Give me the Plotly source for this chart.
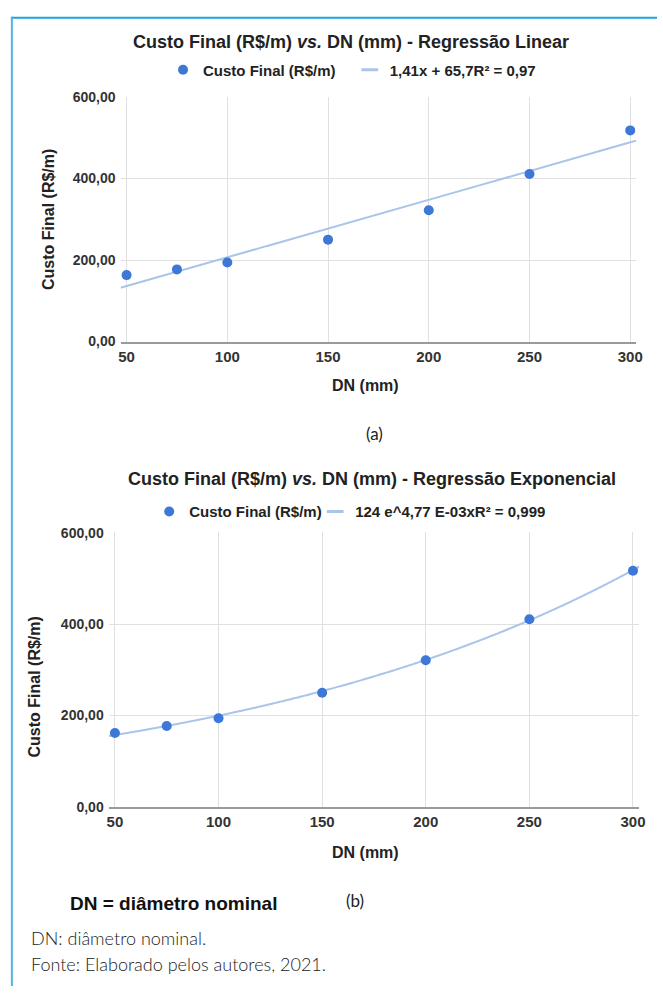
import numpy as np
import plotly.graph_objects as go

# ---------------- data ----------------
dn_mm = [50, 75, 100, 150, 200, 250, 300]
custo_linear = [163, 177, 194, 250, 322, 411, 518]
custo_exp = [162, 177, 194, 250, 321, 411, 517]

# trendline coefficients shown in the legends
lin_slope = 1.41
lin_intercept = 65.7
exp_a = 124
exp_b = 4.77e-3

x_ticks = [50, 100, 150, 200, 250, 300]
y_ticks = [0, 200, 400, 600]
y_ticktext = ["0,00", "200,00", "400,00", "600,00"]

title_a = "Custo Final (R$/m) <i>vs.</i> DN (mm) - Regressão Linear"
title_b = "Custo Final (R$/m) <i>vs.</i> DN (mm) - Regressão Exponencial"
series_name = "Custo Final (R$/m)"
trend_a_name = "1,41x + 65,7R² = 0,97"
trend_b_name = "124 e^4,77 E-03xR² = 0,999"
y_title = "Custo Final (R$/m)"
x_title = "DN (mm)"

# ---------------- layout constants ----------------
W, H = 663, 994
FONT = "Liberation Sans, Arial, sans-serif"
LIGHT = "Lato, Open Sans, sans-serif"
DOT = "#3d78d8"
TREND = "#aac4ea"
GRID = "#e0e0e0"
AX = "#9a9a9a"
TXT = "#222222"
X_RANGE = [47, 303]


def px(x):
    return x / W


def py(y):
    return 1 - y / H


fig = go.Figure()

x_line = np.linspace(X_RANGE[0], X_RANGE[1], 300)

# chart (a)
fig.add_trace(go.Scatter(x=x_line, y=lin_slope * x_line + lin_intercept, mode="lines",
                         line=dict(color=TREND, width=2), showlegend=False,
                         xaxis="x", yaxis="y", hoverinfo="skip"))
fig.add_trace(go.Scatter(x=dn_mm, y=custo_linear, mode="markers", name=series_name,
                         marker=dict(color=DOT, size=10), xaxis="x", yaxis="y",
                         legend="legend"))
fig.add_trace(go.Scatter(x=[None], y=[None], mode="markers", name=trend_a_name,
                         marker=dict(symbol="line-ew", size=12, line=dict(color=TREND, width=3)),
                         xaxis="x", yaxis="y", legend="legend2"))

# chart (b)
fig.add_trace(go.Scatter(x=x_line, y=exp_a * np.exp(exp_b * x_line), mode="lines",
                         line=dict(color=TREND, width=2, shape="spline"), showlegend=False,
                         xaxis="x2", yaxis="y2", hoverinfo="skip"))
fig.add_trace(go.Scatter(x=dn_mm, y=custo_exp, mode="markers", name=series_name,
                         marker=dict(color=DOT, size=10), xaxis="x2", yaxis="y2",
                         legend="legend3"))
fig.add_trace(go.Scatter(x=[None], y=[None], mode="markers", name=trend_b_name,
                         marker=dict(symbol="line-ew", size=12, line=dict(color=TREND, width=3)),
                         xaxis="x2", yaxis="y2", legend="legend4"))

xcommon = dict(range=X_RANGE, tickvals=x_ticks, showgrid=True, gridcolor=GRID, gridwidth=1,
               zeroline=False, showline=True, linecolor=AX, linewidth=2, ticks="",
               tickfont=dict(family=FONT, size=15, color="#333333", weight="bold"),
               fixedrange=True)
ycommon = dict(range=[0, 601], tickvals=y_ticks, ticktext=y_ticktext, showgrid=True,
               gridcolor=GRID, gridwidth=1, zeroline=False, showline=False, ticks="",
               tickfont=dict(family=FONT, size=14, color="#333333", weight="bold"),
               ticklabelstandoff=4, fixedrange=True)

legend_common = dict(orientation="h", yanchor="middle", xanchor="left", bgcolor="rgba(0,0,0,0)",
                     font=dict(family=FONT, size=15, color=TXT, weight="bold"),
                     itemwidth=30, borderwidth=0)

fig.update_layout(
    width=W, height=H, autosize=False,
    margin=dict(l=0, r=0, t=0, b=0),
    paper_bgcolor="white", plot_bgcolor="white",
    xaxis=dict(domain=[px(120), px(642)], anchor="y", **xcommon),
    yaxis=dict(domain=[py(339), py(90)], anchor="x", **ycommon),
    xaxis2=dict(domain=[px(108), px(645)], anchor="y2", **xcommon),
    yaxis2=dict(domain=[py(812), py(533)], anchor="x2", **ycommon),
    legend=dict(x=px(163), y=py(63), **legend_common),
    legend2=dict(x=px(352), y=py(63), **legend_common),
    legend3=dict(x=px(149), y=py(512), **legend_common),
    legend4=dict(x=px(317), y=py(512), **legend_common),
    showlegend=True,
)

ann = []
ann.append(dict(text=f"<b>{title_a}</b>", x=px(353), y=py(35), xref="paper", yref="paper",
                showarrow=False, xanchor="center", yanchor="middle",
                font=dict(family=FONT, size=18, color=TXT)))
ann.append(dict(text=f"<b>{title_b}</b>", x=px(375), y=py(479), xref="paper", yref="paper",
                showarrow=False, xanchor="center", yanchor="middle",
                font=dict(family=FONT, size=18, color=TXT)))
# axis titles
ann.append(dict(text=f"<b>{y_title}</b>", x=px(47), y=py(215), xref="paper", yref="paper",
                showarrow=False, textangle=-90, xanchor="center", yanchor="middle",
                font=dict(family=FONT, size=16, color=TXT)))
ann.append(dict(text=f"<b>{y_title}</b>", x=px(33), y=py(690), xref="paper", yref="paper",
                showarrow=False, textangle=-90, xanchor="center", yanchor="middle",
                font=dict(family=FONT, size=16, color=TXT)))
ann.append(dict(text=f"<b>{x_title}</b>", x=px(368), y=py(384), xref="paper", yref="paper",
                showarrow=False, xanchor="center", yanchor="middle",
                font=dict(family=FONT, size=16, color=TXT)))
ann.append(dict(text=f"<b>{x_title}</b>", x=px(368), y=py(858), xref="paper", yref="paper",
                showarrow=False, xanchor="center", yanchor="middle",
                font=dict(family=FONT, size=16, color=TXT)))
# sub labels
ann.append(dict(text="(a)", x=px(377), y=py(432), xref="paper", yref="paper",
                showarrow=False, xanchor="center", yanchor="middle",
                font=dict(family=LIGHT, size=17, color="#222222")))
ann.append(dict(text="(b)", x=px(357), y=py(907), xref="paper", yref="paper",
                showarrow=False, xanchor="center", yanchor="middle",
                font=dict(family=LIGHT, size=17, color="#222222")))
ann.append(dict(text="<b>DN = diâmetro nominal</b>", x=px(67), y=py(910), xref="paper", yref="paper",
                showarrow=False, xanchor="left", yanchor="middle",
                font=dict(family=FONT, size=19, color="#111111")))
ann.append(dict(text="DN: diâmetro nominal.", x=px(27), y=py(945), xref="paper", yref="paper",
                showarrow=False, xanchor="left", yanchor="middle",
                font=dict(family=LIGHT, size=18, color="#222222", weight=300)))
ann.append(dict(text="Fonte: Elaborado pelos autores, 2021.", x=px(27), y=py(972), xref="paper",
                yref="paper", showarrow=False, xanchor="left", yanchor="middle",
                font=dict(family=LIGHT, size=18, color="#222222", weight=300)))
fig.update_layout(annotations=ann)

# frame lines (decorative border)
fig.update_layout(shapes=[
    dict(type="line", xref="paper", yref="paper", x0=px(9), x1=1, y0=py(10), y1=py(10),
         line=dict(color="#19a6df", width=2)),
    dict(type="line", xref="paper", yref="paper", x0=px(10), x1=px(10), y0=py(9), y1=0,
         line=dict(color="#52b6e2", width=2)),
])

fig.write_html("out.html", config={"displayModeBar": False},
               post_script="document.body.style.margin='0';")
